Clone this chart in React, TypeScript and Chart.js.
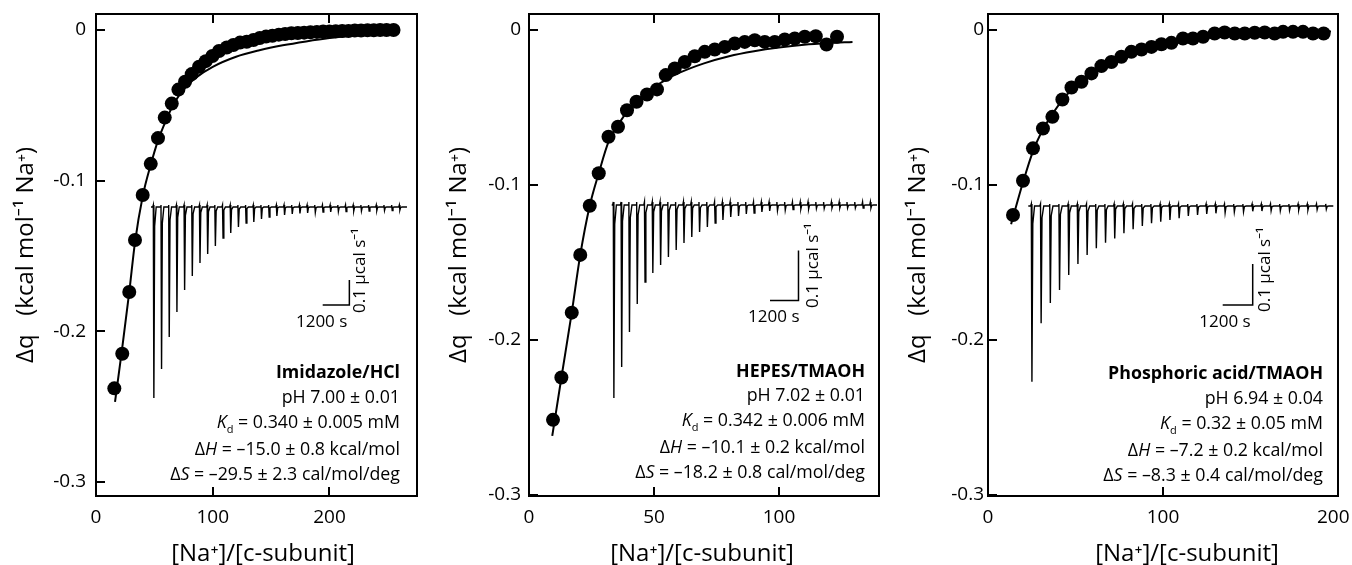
import React, { useEffect, useRef } from "react";
import { Chart, registerables } from "chart.js";

Chart.register(...registerables);

const FONT = "'Open Sans', 'Noto Sans', 'DejaVu Sans', sans-serif";
const W = 1352;
const H = 565;

// ---------- shared ----------
const yTicksA = [0, -0.1, -0.2, -0.3];
const yTitle = "Δq   (kcal mol⁻¹ Na⁺)";
const xTitle = "[Na⁺]/[c-subunit]";
const barSeconds = 1200;
const barPower = 0.1;
const barTimeLabel = "1200 s";
const barPowerLabel = "0.1 µcal s⁻¹";

// ---------- Panel 1: Imidazole/HCl ----------
const p1Ratio = [15.7, 22.5, 28.5, 33.4, 40.0, 46.9, 53.1, 58.9, 64.9, 70.6, 76.3, 82.0, 88.3, 94.0, 99.7, 105.4, 112.0, 117.7, 123.4, 129.1, 134.9, 140.3, 145.7, 151.1, 156.6, 162.0, 167.4, 172.9, 178.3, 183.7, 189.2, 194.6, 200.0, 205.4, 210.9, 216.3, 221.7, 227.1, 232.6, 238.0, 243.4, 248.9, 254.9];
const p1Heat = [-0.238, -0.215, -0.174, -0.1395, -0.1096, -0.0889, -0.0718, -0.0582, -0.0489, -0.0396, -0.0344, -0.0293, -0.0244, -0.0207, -0.0173, -0.014, -0.0116, -0.0100, -0.0084, -0.0078, -0.0067, -0.0053, -0.0044, -0.0038, -0.0031, -0.0027, -0.0022, -0.0020, -0.0018, -0.0016, -0.0013, -0.0011, -0.0011, -0.0009, -0.0007, -0.0007, -0.0004, -0.0004, -0.0002, -0.0002, 0, 0, 0];
const p1FitRatio = [16.3, 22.5, 28.5, 33.4, 40, 46.9, 53.1, 60, 66, 75, 85, 100, 120, 140, 160, 180, 200, 230, 255];
const p1FitHeat = [-0.247, -0.211, -0.174, -0.141, -0.1105, -0.0895, -0.0735, -0.060, -0.050, -0.0395, -0.032, -0.0245, -0.0178, -0.0135, -0.0102, -0.0076, -0.0054, -0.003, -0.0012];
const p1Spikes = [0.764, 0.648, 0.52, 0.42, 0.332, 0.276, 0.224, 0.188, 0.156, 0.124, 0.104, 0.08, 0.064, 0.06, 0.048, 0.04, 0.036, 0.032, 0.028, 0.026, 0.024, 0.022, 0.02, 0.02, 0.018, 0.018, 0.016, 0.016, 0.016, 0.014, 0.014, 0.014, 0.012];
const p1XTicks = [0, 100, 200];
const p1Note = ["Imidazole/HCl", "pH 7.00 ± 0.01", "0.340 ± 0.005 mM", "–15.0 ± 0.8 kcal/mol", "–29.5 ± 2.3 cal/mol/deg"];

// ---------- Panel 2: HEPES/TMAOH ----------
const p2Ratio = [9.6, 12.95, 17.1, 20.5, 24.3, 27.9, 31.8, 35.6, 39.2, 43.0, 47.2, 51.2, 54.7, 58.3, 62.3, 66.3, 70.3, 74.3, 78.3, 82.3, 86.3, 90.3, 94.3, 98.3, 102.3, 106.3, 110.3, 114.7, 119.0, 123.2];
const p2Heat = [-0.2516, -0.2243, -0.1825, -0.1453, -0.1136, -0.0927, -0.0691, -0.0627, -0.052, -0.0466, -0.0419, -0.0386, -0.0294, -0.0251, -0.0209, -0.0172, -0.0144, -0.0129, -0.0112, -0.009, -0.008, -0.0069, -0.008, -0.008, -0.0064, -0.0058, -0.0047, -0.0043, -0.0097, -0.0047];
const p2FitRatio = [9.3, 13, 17.1, 20.5, 24.3, 27.9, 31.8, 36, 40, 45, 50, 55, 60, 70, 80, 90, 100, 110, 120, 129.4];
const p2FitHeat = [-0.262, -0.224, -0.1825, -0.1453, -0.1136, -0.0927, -0.0725, -0.0605, -0.0515, -0.0435, -0.0373, -0.0322, -0.028, -0.0218, -0.0172, -0.014, -0.0116, -0.0098, -0.0087, -0.008];
const p2Spikes = [0.386, 0.324, 0.254, 0.198, 0.154, 0.136, 0.12, 0.104, 0.09, 0.076, 0.064, 0.054, 0.044, 0.036, 0.03, 0.024, 0.022, 0.018, 0.016, 0.014, 0.012, 0.011, 0.010, 0.009, 0.008, 0.008, 0.007, 0.007, 0.006, 0.006, 0.006, 0.006, 0.006, 0.006];
const p2XTicks = [0, 50, 100];
const p2Note = ["HEPES/TMAOH", "pH 7.02 ± 0.01", "0.342 ± 0.006 mM", "–10.1 ± 0.2 kcal/mol", "–18.2 ± 0.8 cal/mol/deg"];

// ---------- Panel 3: Phosphoric acid/TMAOH ----------
const p3Ratio = [14.3, 20.0, 25.7, 31.4, 36.8, 42.5, 47.7, 53.4, 59.1, 64.8, 70.5, 76.2, 81.9, 87.7, 93.4, 99.1, 104.8, 111.4, 117.1, 122.9, 129.5, 135.2, 141.0, 146.7, 152.4, 158.1, 163.8, 168.6, 174.3, 180.0, 185.7, 191.8];
const p3Heat = [-0.1196, -0.0975, -0.0766, -0.0638, -0.0563, -0.0451, -0.0374, -0.0337, -0.0283, -0.0236, -0.0209, -0.0176, -0.0144, -0.0129, -0.0112, -0.0095, -0.0086, -0.0058, -0.0058, -0.0047, -0.0026, -0.0019, -0.0026, -0.0026, -0.0021, -0.0019, -0.0026, -0.0015, -0.0015, -0.0015, -0.0026, -0.0026];
const p3FitRatio = [13.2, 20, 25.7, 31.4, 36.8, 42.5, 48, 55, 62, 70, 80, 90, 100, 115, 130, 150, 170, 196];
const p3FitHeat = [-0.1255, -0.0985, -0.0785, -0.0645, -0.0545, -0.0455, -0.0385, -0.0315, -0.026, -0.021, -0.0162, -0.0127, -0.01, -0.0069, -0.0048, -0.0031, -0.0021, -0.0013];
const p3Spikes = [0.4285, 0.286, 0.2366, 0.205, 0.168, 0.1415, 0.1195, 0.103, 0.0895, 0.079, 0.0666, 0.0568, 0.0488, 0.0422, 0.0383, 0.0341, 0.030, 0.0244, 0.022, 0.0195, 0.0178, 0.0163, 0.0146, 0.0139, 0.0129, 0.0122, 0.0115, 0.0115, 0.0105, 0.0098, 0.0098, 0.009, 0.008];
const p3XTicks = [0, 100, 200];
const p3Note = ["Phosphoric acid/TMAOH", "pH 6.94 ± 0.04", "0.32 ± 0.05 mM", "–7.2 ± 0.2 kcal/mol", "–8.3 ± 0.4 cal/mol/deg"];

type Cfg = {
  canvasL: number; canvasW: number; padR: number;
  ratio: number[]; heat: number[]; fitRatio: number[]; fitHeat: number[];
  spikes: number[]; xTicks: number[]; lastPad: string;
  xMin: number; xMax: number; yMin: number; yMax: number; yPad: number;
  tMin: number; tMax: number; pMin: number; pMax: number;
  first: number; step: number; end: number; up: number;
  barT: number; barP: number; sDx: number; vDx: number; vDy: number;
  xTitleX: number;
};

const panels: Cfg[] = [
  {
    canvasL: 0, canvasW: 433, padR: 16,
    ratio: p1Ratio, heat: p1Heat, fitRatio: p1FitRatio, fitHeat: p1FitHeat, spikes: p1Spikes, xTicks: p1XTicks, lastPad: "",
    xMin: 0, xMax: 275, yMin: -0.3095, yMax: 0.0106, yPad: 10,
    tMin: -2475, tMax: 11971, pMin: -1.156, pMax: 0.772,
    first: 104, step: 346, end: 11520, up: 0.008,
    barT: 7727, barP: -0.392, sDx: -2, vDx: 11, vDy: 8,
    xTitleX: 263,
  },
  {
    canvasL: 433, canvasW: 459, padR: 13,
    ratio: p2Ratio, heat: p2Heat, fitRatio: p2FitRatio, fitHeat: p2FitHeat, spikes: p2Spikes, xTicks: p2XTicks, lastPad: "",
    xMin: 0, xMax: 140, yMin: -0.3007, yMax: 0.0100, yPad: 8,
    tMin: -3482, tMax: 11255, pMin: -0.582, pMax: 0.382,
    first: 67, step: 328, end: 11171, up: 0.006,
    barT: 6665, barP: -0.191, sDx: 1, vDx: 15, vDy: 7.5,
    xTitleX: 702,
  },
  {
    canvasL: 892, canvasW: 460, padR: 14,
    ratio: p3Ratio, heat: p3Heat, fitRatio: p3FitRatio, fitHeat: p3FitHeat, spikes: p3Spikes, xTicks: p3XTicks, lastPad: "\u2002",
    xMin: 0, xMax: 200, yMin: -0.3007, yMax: 0.0100, yPad: 4,
    tMin: -1612, tMax: 12388, pMin: -0.7073, pMax: 0.4683,
    first: 120, step: 368, end: 12200, up: 0.005,
    barT: 7776, barP: -0.2415, sDx: -2, vDx: 12.5, vDy: 7,
    xTitleX: 1187,
  },
];

const notes = [
  { lines: p1Note, right: 400, top: 359.4 },
  { lines: p2Note, right: 865, top: 357.7 },
  { lines: p3Note, right: 1323, top: 360.4 },
];

function thermogram(c: Cfg) {
  const pts: { x: number; y: number }[] = [{ x: 0, y: 0 }];
  c.spikes.forEach((d, i) => {
    const t = c.first + i * c.step;
    pts.push(
      { x: t - 25, y: 0 },
      { x: t, y: c.up },
      { x: t + 25, y: -d },
      { x: t + 60, y: -d * 0.1 },
      { x: t + 130, y: 0 }
    );
  });
  pts.push({ x: c.end, y: 0 });
  return pts;
}

function Panel({ c }: { c: Cfg }) {
  const ref = useRef<HTMLCanvasElement>(null);
  useEffect(() => {
    const extras = {
      id: "extras",
      afterDatasetsDraw(chart: any) {
        const { ctx, chartArea: a, scales } = chart;
        ctx.save();
        ctx.fillStyle = "#000";
        const L = Math.round(a.left), R = Math.round(a.right), T = Math.round(a.top), B = Math.round(a.bottom);
        const lw = 2;
        // frame
        ctx.fillRect(L - 1, T - 1, R - L + lw, lw);
        ctx.fillRect(L - 1, B - 1, R - L + lw, lw);
        ctx.fillRect(L - 1, T - 1, lw, B - T + lw);
        ctx.fillRect(R - 1, T - 1, lw, B - T + lw);
        // inward ticks (bottom + top for x, left for y)
        const xs = scales.x;
        const ys = scales.y;
        for (const t of xs.ticks) {
          const px = Math.round(xs.getPixelForValue(t.value));
          ctx.fillRect(px - 1, B - 9, lw, 9);
          ctx.fillRect(px - 1, T, lw, 9);
        }
        for (const t of ys.ticks) {
          const py = Math.round(ys.getPixelForValue(t.value));
          ctx.fillRect(L, py - 1, 9, lw);
        }
        // scale-bar labels
        const bx = scales.xi.getPixelForValue(c.barT + barSeconds);
        const by = scales.yi.getPixelForValue(c.barP);
        ctx.font = `17px ${FONT}`;
        ctx.textAlign = "right";
        ctx.textBaseline = "alphabetic";
        ctx.fillText(barTimeLabel, bx + c.sDx, by + 21.5);
        ctx.save();
        ctx.translate(bx + c.vDx, by + c.vDy);
        ctx.rotate(-Math.PI / 2);
        ctx.textAlign = "left";
        ctx.textBaseline = "middle";
        ctx.fillText(barPowerLabel, 0, 0);
        ctx.restore();
        // x-axis title
        ctx.font = `24px ${FONT}`;
        ctx.textAlign = "center";
        ctx.textBaseline = "middle";
        ctx.fillText(xTitle, c.xTitleX - c.canvasL, 554);
        ctx.restore();
      },
    };

    const tickFont = { family: FONT, size: 19, lineHeight: 1 };
    const lastTick = c.xTicks[c.xTicks.length - 1];
    const chart = new Chart(ref.current as HTMLCanvasElement, {
      type: "scatter",
      data: {
        datasets: [
          {
            data: c.ratio.map((x, i) => ({ x, y: c.heat[i] })),
            pointRadius: 7,
            pointBackgroundColor: "#000",
            pointBorderWidth: 0,
            order: 0,
          },
          {
            data: c.fitRatio.map((x, i) => ({ x, y: c.fitHeat[i] })),
            showLine: true,
            borderColor: "#000",
            borderWidth: 2,
            pointRadius: 0,
            cubicInterpolationMode: "monotone",
            order: 1,
          },
          {
            data: thermogram(c),
            xAxisID: "xi",
            yAxisID: "yi",
            showLine: true,
            borderColor: "#000",
            borderWidth: 1.4,
            pointRadius: 0,
            order: 2,
          },
          {
            data: [
              { x: c.barT, y: c.barP },
              { x: c.barT + barSeconds, y: c.barP },
              { x: c.barT + barSeconds, y: c.barP + barPower },
            ],
            xAxisID: "xi",
            yAxisID: "yi",
            showLine: true,
            borderColor: "#000",
            borderWidth: 1.5,
            pointRadius: 0,
            order: 3,
          },
        ],
      } as any,
      options: {
        responsive: false,
        animation: false,
        devicePixelRatio: 1,
        events: [],
        layout: { padding: { left: 0, right: c.padR, top: 14, bottom: 0 } },
        plugins: { legend: { display: false }, tooltip: { enabled: false } },
        scales: {
          x: {
            type: "linear",
            position: "bottom",
            min: c.xMin,
            max: c.xMax,
            grid: { display: false, drawTicks: false },
            border: { display: false },
            ticks: {
              font: tickFont,
              color: "#000",
              padding: 12.5,
              maxRotation: 0,
              autoSkip: false,
              callback: (v: any) => (v === lastTick ? String(v) + c.lastPad : String(v)),
            },
            afterBuildTicks: (s: any) => {
              s.ticks = c.xTicks.map((v) => ({ value: v }));
            },
            afterFit: (s: any) => {
              s.height = 69;
              s.paddingLeft = 0;
              s.paddingRight = 0;
            },
          },
          y: {
            type: "linear",
            position: "left",
            min: c.yMin,
            max: c.yMax,
            grid: { display: false, drawTicks: false },
            border: { display: false },
            ticks: {
              font: tickFont,
              color: "#000",
              padding: c.yPad,
              autoSkip: false,
              callback: (v: any) => (v === 0 ? "0" : Number(v).toFixed(1)),
            },
            title: {
              display: true,
              text: yTitle,
              color: "#000",
              font: { family: FONT, size: 24, lineHeight: 1 },
              padding: { top: 14, bottom: 0 },
            },
            afterBuildTicks: (s: any) => {
              s.ticks = yTicksA.map((v) => ({ value: v }));
            },
            afterFit: (s: any) => {
              s.width = 96;
              s.paddingTop = 0;
              s.paddingBottom = 0;
            },
          },
          xi: { type: "linear", axis: "x", display: false, min: c.tMin, max: c.tMax },
          yi: { type: "linear", axis: "y", display: false, min: c.pMin, max: c.pMax },
        },
      } as any,
      plugins: [extras],
    });
    return () => chart.destroy();
  }, []);
  return (
    <canvas
      ref={ref}
      width={c.canvasW}
      height={H}
      style={{ position: "absolute", left: c.canvasL, top: 0, width: c.canvasW, height: H }}
    />
  );
}

function Note({ lines, right, top }: { lines: string[]; right: number; top: number }) {
  return (
    <div
      style={{
        position: "absolute",
        right: W - right,
        top,
        textAlign: "right",
        whiteSpace: "nowrap",
        fontFamily: FONT,
        fontSize: "17.8px",
        lineHeight: "24.6px",
        color: "#000",
      }}
    >
      <div style={{ fontWeight: 700 }}>{lines[0]}</div>
      <div>{lines[1]}</div>
      <div>
        <i>K</i>
        <span style={{ fontSize: "11px", position: "relative", top: "5px" }}>d</span> = {lines[2]}
      </div>
      <div>
        Δ<i>H</i> = {lines[3]}
      </div>
      <div>
        Δ<i>S</i> = {lines[4]}
      </div>
    </div>
  );
}

export default function App() {
  return (
    <div
      style={{
        position: "fixed",
        left: 0,
        top: 0,
        width: W,
        height: H,
        overflow: "hidden",
        background: "#fff",
      }}
    >
      {panels.map((c, i) => (
        <Panel key={i} c={c} />
      ))}
      {notes.map((n, i) => (
        <Note key={i} lines={n.lines} right={n.right} top={n.top} />
      ))}
    </div>
  );
}
